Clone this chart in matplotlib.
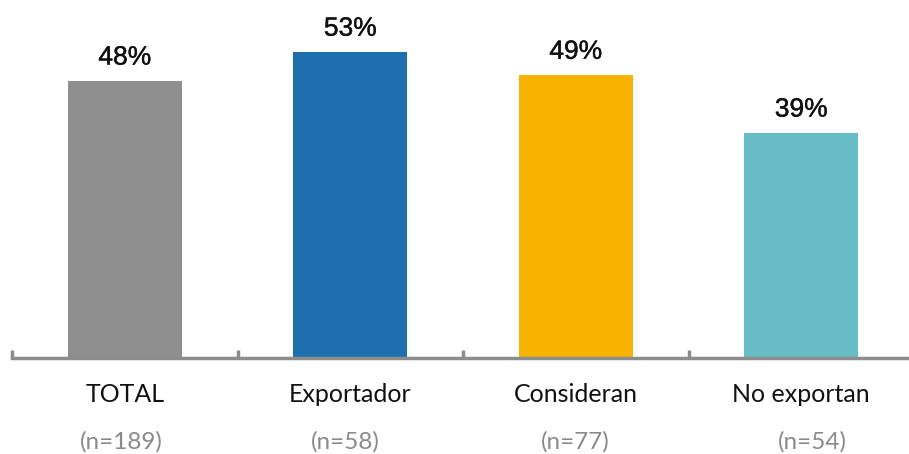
import matplotlib.pyplot as plt
import matplotlib.patheffects as pe
import numpy as np

categories = ['TOTAL', 'Exportador', 'Consideran', 'No exportan']
sample_sizes = ['(n=189)', '(n=58)', '(n=77)', '(n=54)']
values = [48, 53, 49, 39]
colors = ['#8f8f8f', '#1e6fad', '#f8b200', '#67bcc5']
n_label_shift = [-3, -5, -1, 11]  # px, sample-size labels aren't quite centred

W, H = 909, 454
fig = plt.figure(figsize=(W / 100, H / 100), dpi=100)
# axes spans from the first tick (x=12px) over 4 slots of ~225.5px
ax = fig.add_axes([12 / W, (H - 358) / H, 902 / W, 320 / H])
x = np.arange(len(categories))
ax.bar(x, values, width=0.505, color=colors, zorder=2)
ax.set_xlim(-0.5, len(categories) - 0.5)
ax.set_ylim(0, 320 / 5.78)

for side in ['top', 'right', 'left']:
    ax.spines[side].set_visible(False)
ax.spines['bottom'].set_color('#8c8c8c')
ax.spines['bottom'].set_linewidth(2.5)
ax.set_yticks([])
ax.set_xticks(np.arange(len(categories) + 1) - 0.5)
ax.tick_params(axis='x', direction='in', length=6, width=2.5, color='#8c8c8c',
               labelbottom=False)

pt = 72 / 100  # px -> points
# labels in the original look a touch heavier than regular
heavier = [pe.withStroke(linewidth=0.3, foreground='#111111')]
for i, v in enumerate(values):
    ax.annotate(f'{v}%', (x[i], v), xytext=(0, 16 * pt), textcoords='offset points',
                ha='center', va='baseline', fontsize=19, family='Liberation Sans',
                color='#111111', path_effects=heavier)
    ax.annotate(categories[i], (x[i], 0), xytext=(0, -36 * pt), textcoords='offset points',
                ha='center', va='center', fontsize=18, family='Lato', color='#111111')
    ax.annotate(sample_sizes[i], (x[i], 0), xytext=(n_label_shift[i] * pt, -84 * pt),
                textcoords='offset points', ha='center', va='center', fontsize=17.5,
                family='Lato', color='#8a8a8a')

fig.savefig('out.png', dpi=100)
